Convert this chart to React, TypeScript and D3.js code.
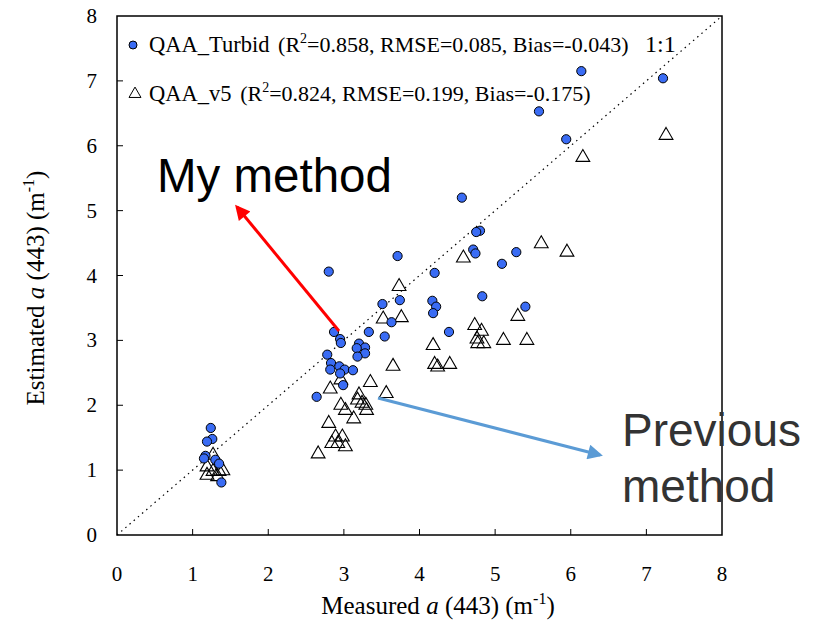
import { useEffect, useRef } from 'react'
import * as d3 from 'd3'

// QAA_Turbid estimates (measured, estimated)
const turbidX = [7.22, 6.14, 5.58, 5.94, 4.56, 4.80, 4.75, 4.71, 4.74, 5.28, 5.09, 4.20, 3.71, 2.80, 3.51, 3.74, 3.63, 4.17, 4.22, 4.18, 4.83, 5.40, 4.39, 2.87, 2.95, 2.96, 3.33, 3.54, 3.20, 3.28, 3.17, 3.28, 3.18, 2.78, 2.83, 2.94, 2.82, 3.01, 3.12, 2.95, 2.99, 2.64, 1.24, 1.26, 1.19, 1.17, 1.15, 1.30, 1.35, 1.38]
const turbidY = [7.04, 7.15, 6.53, 6.10, 5.20, 4.69, 4.67, 4.40, 4.34, 4.36, 4.18, 4.04, 4.30, 4.06, 3.56, 3.62, 3.28, 3.61, 3.52, 3.42, 3.68, 3.52, 3.13, 3.13, 3.02, 2.96, 3.13, 3.06, 2.95, 2.89, 2.88, 2.80, 2.75, 2.78, 2.65, 2.60, 2.55, 2.55, 2.54, 2.49, 2.31, 2.13, 1.65, 1.48, 1.44, 1.22, 1.18, 1.16, 1.10, 0.81]

// QAA_v5 estimates
const v5X = [7.26, 6.16, 5.61, 5.95, 4.58, 3.73, 3.52, 3.76, 5.30, 4.73, 4.82, 4.76, 4.85, 4.77, 5.11, 5.42, 4.18, 4.20, 4.24, 4.40, 3.65, 2.82, 3.35, 3.56, 2.96, 3.20, 3.18, 3.24, 3.29, 3.30, 2.96, 3.02, 3.13, 2.80, 2.89, 2.98, 2.84, 2.92, 3.02, 2.66, 1.19, 1.27, 1.19, 1.27, 1.35, 1.40, 1.33]
const v5Y = [6.16, 5.82, 4.49, 4.36, 4.27, 3.83, 3.33, 3.35, 3.37, 3.23, 3.14, 3.02, 2.95, 2.95, 3.00, 3.00, 2.92, 2.63, 2.59, 2.63, 2.60, 2.25, 2.35, 2.18, 2.39, 2.16, 2.08, 2.03, 2.00, 1.92, 2.00, 1.92, 1.79, 1.72, 1.51, 1.51, 1.41, 1.41, 1.36, 1.25, 1.05, 1.23, 0.92, 0.98, 0.98, 0.99, 0.90]

const ticks = [0, 1, 2, 3, 4, 5, 6, 7, 8]

const W = 817
const H = 622
const serif = '"Liberation Serif", "Times New Roman", serif'
const sans = '"Liberation Sans", Arial, sans-serif'

export default function App() {
  const svgRef = useRef<SVGSVGElement>(null)

  useEffect(() => {
    document.body.style.margin = '0'
    if (!svgRef.current) return
    const svg = d3.select(svgRef.current)
    svg.selectAll('*').remove()

    const left = 117, right = 722, top = 16, bottom = 535
    const x = d3.scaleLinear().domain([0, 8]).range([left, right])
    const y = d3.scaleLinear().domain([0, 8]).range([bottom, top])

    const defs = svg.append('defs')
    const marker = (id: string, color: string) =>
      defs.append('marker')
        .attr('id', id)
        .attr('viewBox', '0 0 10 10')
        .attr('refX', 8).attr('refY', 5)
        .attr('markerWidth', 6).attr('markerHeight', 5)
        .attr('markerUnits', 'strokeWidth')
        .attr('orient', 'auto')
        .append('path')
        .attr('d', 'M0,0 L10,5 L0,10 z')
        .attr('fill', color)
    marker('redHead', '#ff0000')
    marker('blueHead', '#5b9bd5')

    // frame
    svg.append('rect')
      .attr('x', left).attr('y', top)
      .attr('width', right - left).attr('height', bottom - top)
      .attr('fill', 'none').attr('stroke', '#000').attr('stroke-width', 1.5)

    // inside ticks
    svg.append('g').selectAll('line').data(ticks.slice(1, -1)).enter().append('line')
      .attr('x1', d => x(d)).attr('x2', d => x(d))
      .attr('y1', bottom).attr('y2', bottom - 6)
      .attr('stroke', '#000').attr('stroke-width', 1)
    svg.append('g').selectAll('line').data(ticks.slice(1, -1)).enter().append('line')
      .attr('x1', left).attr('x2', left + 6)
      .attr('y1', d => y(d)).attr('y2', d => y(d))
      .attr('stroke', '#000').attr('stroke-width', 1)

    // tick labels
    svg.append('g').selectAll('text').data(ticks).enter().append('text')
      .attr('x', d => x(d)).attr('y', 581)
      .attr('text-anchor', 'middle')
      .attr('font-family', serif).attr('font-size', 21)
      .text(d => d)
    svg.append('g').selectAll('text').data(ticks).enter().append('text')
      .attr('x', 97).attr('y', d => y(d) + 7)
      .attr('text-anchor', 'end')
      .attr('font-family', serif).attr('font-size', 21)
      .text(d => d)

    // axis titles
    const xt = svg.append('text')
      .attr('x', 438).attr('y', 614)
      .attr('text-anchor', 'middle')
      .attr('font-family', serif).attr('font-size', 25)
    xt.append('tspan').text('Measured ')
    xt.append('tspan').attr('font-style', 'italic').text('a')
    xt.append('tspan').text(' (443) (m')
    xt.append('tspan').attr('dy', -10).attr('font-size', 16).text('-1')
    xt.append('tspan').attr('dy', 10).text(')')

    const yt = svg.append('text')
      .attr('transform', 'translate(44,288) rotate(-90)')
      .attr('text-anchor', 'middle')
      .attr('font-family', serif).attr('font-size', 25)
    yt.append('tspan').text('Estimated ')
    yt.append('tspan').attr('font-style', 'italic').text('a')
    yt.append('tspan').text(' (443) (m')
    yt.append('tspan').attr('dy', -10).attr('font-size', 16).text('-1')
    yt.append('tspan').attr('dy', 10).text(')')

    // 1:1 line
    svg.append('line')
      .attr('x1', x(0)).attr('y1', y(0)).attr('x2', x(8)).attr('y2', y(8))
      .attr('stroke', '#000').attr('stroke-width', 1.2)
      .attr('stroke-dasharray', '1.5,4')
    svg.append('text')
      .attr('x', 645).attr('y', 52)
      .attr('font-family', serif).attr('font-size', 24)
      .text('1:1')

    // QAA_v5 triangles
    const tri = d3.symbol().type(d3.symbolTriangle).size(82)
    svg.append('g').selectAll('path').data(v5X).enter().append('path')
      .attr('d', tri)
      .attr('transform', (d, i) => `translate(${x(d)},${y(v5Y[i])})`)
      .attr('fill', 'none').attr('stroke', '#000').attr('stroke-width', 1.1)

    // QAA_Turbid circles
    svg.append('g').selectAll('circle').data(turbidX).enter().append('circle')
      .attr('cx', d => x(d)).attr('cy', (d, i) => y(turbidY[i]))
      .attr('r', 4.6)
      .attr('fill', '#3a6cf4').attr('stroke', '#000').attr('stroke-width', 1)

    // legend
    const legend = [
      { label: 'QAA_Turbid', stats: ['(R', '=0.858, RMSE=0.085, Bias=-0.043)'], yy: 52 },
      { label: 'QAA_v5', stats: ['(R', '=0.824, RMSE=0.199, Bias=-0.175)'], yy: 101 },
    ]
    svg.append('circle').attr('cx', 133).attr('cy', 45).attr('r', 4)
      .attr('fill', '#3a6cf4').attr('stroke', '#000').attr('stroke-width', 1)
    svg.append('path')
      .attr('d', d3.symbol().type(d3.symbolTriangle).size(62)())
      .attr('transform', 'translate(135,94)')
      .attr('fill', 'none').attr('stroke', '#000').attr('stroke-width', 1)
    legend.forEach(l => {
      const t = svg.append('text')
        .attr('x', 149).attr('y', l.yy)
        .attr('font-family', serif)
      t.append('tspan').attr('font-size', 22.5).text(l.label + ' ')
      t.append('tspan').attr('font-size', 22).attr('dx', 3).text(l.stats[0])
      t.append('tspan').attr('font-size', 14).attr('dy', -9).text('2')
      t.append('tspan').attr('font-size', 22).attr('dy', 9).text(l.stats[1])
    })

    // annotations
    svg.append('line')
      .attr('x1', 339).attr('y1', 331).attr('x2', 237).attr('y2', 207)
      .attr('stroke', '#ff0000').attr('stroke-width', 3)
      .attr('marker-end', 'url(#redHead)')
    svg.append('text')
      .attr('x', 157).attr('y', 192)
      .attr('font-family', sans).attr('font-size', 47.5)
      .attr('fill', '#000')
      .text('My method')

    svg.append('line')
      .attr('x1', 378).attr('y1', 398).attr('x2', 600).attr('y2', 455)
      .attr('stroke', '#5b9bd5').attr('stroke-width', 3)
      .attr('marker-end', 'url(#blueHead)')
    const pm = svg.append('text')
      .attr('font-family', sans).attr('font-size', 46)
      .attr('fill', '#333')
    pm.append('tspan').attr('x', 622).attr('y', 446).text('Previous')
    pm.append('tspan').attr('x', 622).attr('y', 502).text('method')
  }, [])

  return <svg ref={svgRef} width={W} height={H} style={{ display: 'block', background: '#fff' }} />
}
